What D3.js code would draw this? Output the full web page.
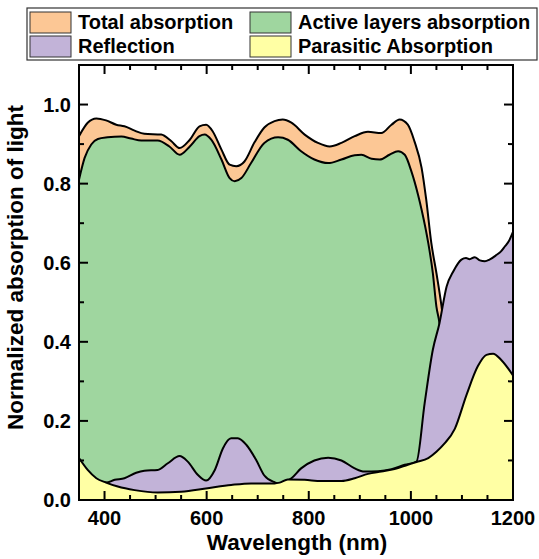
<!DOCTYPE html>
<html>
<head>
<meta charset="utf-8">
<script src="https://cdn.jsdelivr.net/npm/d3@7"></script>
<style>
  body { margin: 0; background: #fff; }
  svg { display: block; font-family: "Liberation Sans", Arial, sans-serif; font-weight: bold; }
</style>
</head>
<body>
<div id="chart"></div>
<script>
// wavelength (nm) / value pairs
const totalNm   = [350, 367, 384, 403, 423, 439, 459, 478, 511, 531, 547, 567, 586, 599, 612, 629, 645, 658, 674, 694, 713, 733, 749, 766, 792, 818, 841, 864, 890, 916, 942, 962, 978, 994, 1007, 1021, 1030, 1040, 1050, 1060, 1070, 1090, 1120, 1160, 1200];
const totalVal  = [0.92, 0.954, 0.965, 0.96, 0.949, 0.945, 0.934, 0.926, 0.924, 0.907, 0.89, 0.911, 0.945, 0.949, 0.932, 0.886, 0.848, 0.844, 0.856, 0.905, 0.942, 0.958, 0.962, 0.954, 0.924, 0.903, 0.894, 0.903, 0.92, 0.931, 0.928, 0.949, 0.962, 0.949, 0.907, 0.84, 0.76, 0.65, 0.574, 0.49, 0.38, 0.25, 0.25, 0.3, 0.28];

const activeNm  = [350, 361, 374, 387, 406, 433, 452, 472, 504, 527, 547, 567, 586, 596, 609, 629, 645, 655, 668, 687, 713, 740, 759, 785, 811, 838, 864, 890, 903, 923, 939, 958, 975, 988, 1001, 1014, 1021, 1034, 1043, 1050, 1056, 1066, 1080, 1100, 1200];
const activeVal = [0.81, 0.865, 0.899, 0.913, 0.917, 0.919, 0.914, 0.909, 0.909, 0.894, 0.873, 0.894, 0.92, 0.924, 0.911, 0.861, 0.814, 0.806, 0.814, 0.852, 0.903, 0.917, 0.911, 0.882, 0.861, 0.852, 0.861, 0.872, 0.873, 0.863, 0.861, 0.873, 0.882, 0.873, 0.831, 0.772, 0.734, 0.65, 0.574, 0.489, 0.447, 0.3, 0.1, 0.01, 0];

const reflNm    = [350, 367, 384, 403, 420, 439, 462, 478, 504, 524, 547, 563, 583, 599, 616, 632, 648, 661, 678, 697, 713, 733, 740, 766, 785, 811, 838, 864, 890, 909, 936, 962, 988, 1011, 1027, 1043, 1056, 1070, 1083, 1099, 1108, 1115, 1125, 1135, 1145, 1154, 1168, 1176, 1184, 1192, 1200];
const reflVal   = [0.09, 0.065, 0.05, 0.044, 0.051, 0.055, 0.069, 0.074, 0.076, 0.093, 0.111, 0.097, 0.063, 0.049, 0.076, 0.131, 0.156, 0.156, 0.139, 0.101, 0.062, 0.045, 0.042, 0.055, 0.08, 0.1, 0.107, 0.1, 0.08, 0.072, 0.073, 0.078, 0.089, 0.097, 0.245, 0.38, 0.447, 0.54, 0.578, 0.608, 0.612, 0.609, 0.614, 0.606, 0.604, 0.608, 0.62, 0.628, 0.641, 0.655, 0.678];

const parNm     = [350, 367, 384, 403, 426, 459, 504, 550, 602, 648, 687, 713, 733, 743, 759, 792, 825, 864, 890, 916, 942, 968, 994, 1011, 1034, 1050, 1066, 1086, 1109, 1131, 1148, 1161, 1177, 1200];
const parVal    = [0.106, 0.076, 0.055, 0.044, 0.034, 0.025, 0.019, 0.021, 0.03, 0.038, 0.042, 0.042, 0.042, 0.044, 0.052, 0.051, 0.048, 0.048, 0.055, 0.066, 0.072, 0.078, 0.089, 0.096, 0.106, 0.122, 0.143, 0.18, 0.266, 0.338, 0.367, 0.37, 0.354, 0.315];

const xTicks = [400, 600, 800, 1000, 1200];
const yTicks = [0.0, 0.2, 0.4, 0.6, 0.8, 1.0];

const legendItems = [
    { name: "Total absorption", color: "#fcc795" },
    { name: "Active layers absorption", color: "#9fd69f" },
    { name: "Reflection", color: "#c2b3d8" },
    { name: "Parasitic Absorption", color: "#ffffa4" }
];

const W = 539, H = 559;
const margin = { top: 65, right: 26, bottom: 59, left: 79 };
const width = W - margin.left - margin.right;
const height = H - margin.top - margin.bottom;

const root = d3.select("#chart").append("svg")
    .attr("width", W)
    .attr("height", H);

const svg = root.append("g")
    .attr("transform", `translate(${margin.left},${margin.top})`);

const x = d3.scaleLinear().domain([350, 1200]).range([0, width]);
const y = d3.scaleLinear().domain([0, 1.1]).range([height, 0]);

svg.append("defs").append("clipPath").attr("id", "clip")
    .append("rect").attr("width", width).attr("height", height);

const layers = [
    { nm: totalNm, val: totalVal, color: legendItems[0].color },
    { nm: activeNm, val: activeVal, color: legendItems[1].color },
    { nm: reflNm, val: reflVal, color: legendItems[2].color },
    { nm: parNm, val: parVal, color: legendItems[3].color }
];

const area = d3.area()
    .x(d => x(d[0]))
    .y0(y(0))
    .y1(d => y(d[1]))
    .curve(d3.curveMonotoneX);

const line = d3.line()
    .x(d => x(d[0]))
    .y(d => y(d[1]))
    .curve(d3.curveMonotoneX);

const plot = svg.append("g").attr("clip-path", "url(#clip)");

layers.forEach(l => {
    const pts = l.nm.map((n, i) => [n, l.val[i]]);
    plot.append("path")
        .datum(pts)
        .attr("fill", l.color)
        .attr("d", area);
    plot.append("path")
        .datum(pts)
        .attr("fill", "none")
        .attr("stroke", "#000")
        .attr("stroke-width", 2)
        .attr("stroke-linejoin", "round")
        .attr("d", line);
});

// ticks: inward on all four sides
const xMinor = d3.range(350, 1201, 50);
const yMinor = d3.range(0, 1.101, 0.1);

function isMajorX(v) { return v % 200 === 0; }
function isMajorY(v) { return Math.round(v * 10) % 2 === 0; }

const tk = svg.append("g").attr("stroke", "#000").attr("stroke-width", 2);

xMinor.forEach(v => {
    const len = isMajorX(v) ? 9 : 5;
    tk.append("line").attr("x1", x(v)).attr("x2", x(v)).attr("y1", height).attr("y2", height - len);
    tk.append("line").attr("x1", x(v)).attr("x2", x(v)).attr("y1", 0).attr("y2", len);
});

yMinor.forEach(v => {
    const len = isMajorY(v) ? 9 : 5;
    tk.append("line").attr("x1", 0).attr("x2", len).attr("y1", y(v)).attr("y2", y(v));
    tk.append("line").attr("x1", width).attr("x2", width - len).attr("y1", y(v)).attr("y2", y(v));
});

svg.append("rect")
    .attr("width", width)
    .attr("height", height)
    .attr("fill", "none")
    .attr("stroke", "#000")
    .attr("stroke-width", 2);

svg.selectAll("text.xtick")
    .data(xTicks)
    .join("text")
    .attr("class", "xtick")
    .attr("x", d => x(d))
    .attr("y", height + 25)
    .attr("text-anchor", "middle")
    .style("font-size", "20px")
    .text(d => d);

svg.selectAll("text.ytick")
    .data(yTicks)
    .join("text")
    .attr("class", "ytick")
    .attr("x", -8)
    .attr("y", d => y(d) + 7)
    .attr("text-anchor", "end")
    .style("font-size", "20px")
    .text(d => d.toFixed(1));

svg.append("text")
    .attr("x", width / 2 + 1)
    .attr("y", height + 50)
    .attr("text-anchor", "middle")
    .style("font-size", "22.5px")
    .text("Wavelength (nm)");

svg.append("text")
    .attr("transform", "rotate(-90)")
    .attr("x", -height / 2 + 15)
    .attr("y", -56)
    .attr("text-anchor", "middle")
    .style("font-size", "22.5px")
    .text("Normalized absorption of light");

// legend
const lg = root.append("g");
lg.append("rect")
    .attr("x", 27).attr("y", 8)
    .attr("width", 510).attr("height", 52)
    .attr("fill", "#fff")
    .attr("stroke", "#333")
    .attr("stroke-width", 1.2);

legendItems.forEach((d, i) => {
    const col = i % 2, row = Math.floor(i / 2);
    const gx = col === 0 ? 30 : 250;
    const gy = 12 + row * 24;
    lg.append("rect")
        .attr("x", gx).attr("y", gy)
        .attr("width", 41).attr("height", 21)
        .attr("fill", d.color)
        .attr("stroke", "#333")
        .attr("stroke-width", 1);
    lg.append("text")
        .attr("x", gx + 48)
        .attr("y", gy + 17)
        .style("font-size", "20px")
        .text(d.name);
});
</script>
</body>
</html>
